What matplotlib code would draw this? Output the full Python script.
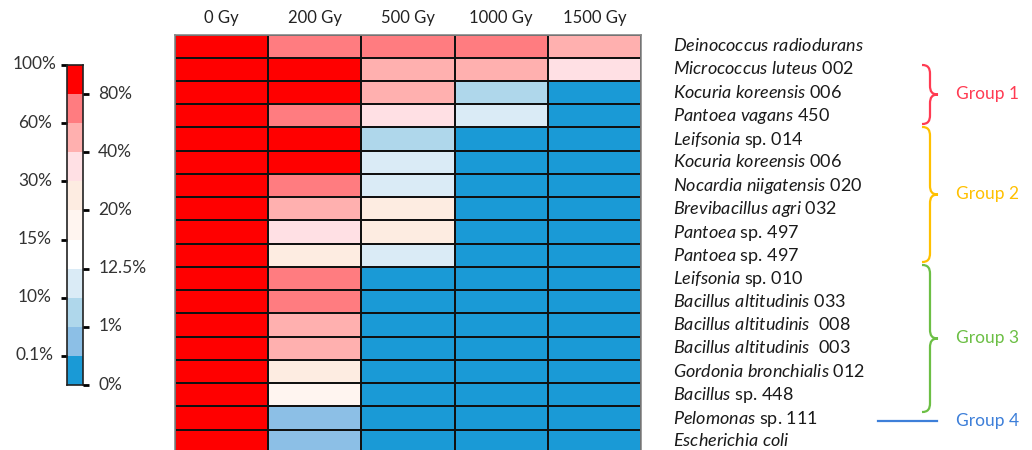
import numpy as np
import matplotlib
matplotlib.use("Agg")
import matplotlib.pyplot as plt
from matplotlib.colors import ListedColormap, BoundaryNorm
from matplotlib.path import Path
from matplotlib.patches import PathPatch
import matplotlib.transforms as mtransforms

plt.rcParams['font.family'] = ['Lato', 'DejaVu Sans']
plt.rcParams['mathtext.fontset'] = 'custom'
plt.rcParams['mathtext.it'] = 'Lato:italic'
plt.rcParams['mathtext.rm'] = 'Lato'

# ---------------- data ----------------
doses = ["0 Gy", "200 Gy", "500 Gy", "1000 Gy", "1500 Gy"]
genus = ["Deinococcus radiodurans", "Micrococcus luteus", "Kocuria koreensis",
         "Pantoea vagans", "Leifsonia", "Kocuria koreensis", "Nocardia niigatensis",
         "Brevibacillus agri", "Pantoea", "Pantoea", "Leifsonia",
         "Bacillus altitudinis", "Bacillus altitudinis", "Bacillus altitudinis",
         "Gordonia bronchialis", "Bacillus", "Pelomonas", "Escherichia coli"]
strain = ["", "002", "006", "450", "sp. 014", "006", "020", "032", "sp. 497",
          "sp. 497", "sp. 010", "033", " 008", " 003", "012", "sp. 448",
          "sp. 111", ""]
# survival (%) per dose
surv_0 = [100] * 18
surv_200 = [70, 90, 90, 70, 90, 90, 70, 50, 35, 25, 70, 70, 50, 50, 25, 17, 0.5, 0.5]
surv_500 = [70, 50, 50, 35, 5, 11, 11, 25, 25, 11, 0, 0, 0, 0, 0, 0, 0, 0]
surv_1000 = [70, 50, 5, 11, 0, 0, 0, 0, 0, 0, 0, 0, 0, 0, 0, 0, 0, 0]
surv_1500 = [50, 35, 0, 0, 0, 0, 0, 0, 0, 0, 0, 0, 0, 0, 0, 0, 0, 0]

bounds = [0, 0.1, 1, 10, 12.5, 15, 20, 30, 40, 60, 80, 100.01]
level_colors = ["#1A9AD6", "#8CBFE6", "#AFD7EB", "#DAEBF6", "#FFFFFF", "#FFF5F0",
                "#FDECE1", "#FFE0E4", "#FFB0AF", "#FF7C80", "#FF0000"]
left_tick_labels = ["100%", "60%", "30%", "15%", "10%", "0.1%"]
right_tick_labels = ["80%", "40%", "20%", "12.5%", "1%", "0%"]

groups = ["Group 1", "Group 2", "Group 3", "Group 4"]
group_colors = ["#FF3B52", "#FFC000", "#6CBF45", "#3D7FD9"]

# ---------------- figure ----------------
W, H = 1032, 450
fig = plt.figure(figsize=(W / 100, H / 100), dpi=100)

def fx(px):
    return px / W

def fy(py):
    return 1 - py / H

cmap = ListedColormap(level_colors)
norm = BoundaryNorm(bounds, cmap.N)

data = np.array([surv_0, surv_200, surv_500, surv_1000, surv_1500]).T

top_px, row_h = 34.5, 23.25
bot_px = top_px + row_h * len(genus)
ax = fig.add_axes([fx(175), fy(bot_px), fx(641) - fx(175), fy(top_px) - fy(bot_px)])
ax.pcolormesh(data, cmap=cmap, norm=norm, edgecolors="#111111", linewidth=1.1)
ax.set_xlim(0, len(doses))
ax.set_ylim(len(genus), 0)
for s in ax.spines.values():
    s.set_edgecolor("#888888")
    s.set_linewidth(1.2)
ax.xaxis.tick_top()
ax.set_xticks(np.arange(len(doses)) + 0.5)
ax.set_xticklabels(doses, fontsize=12, color="#222222")
ax.tick_params(axis="x", length=0, pad=6)
ax.yaxis.tick_right()
ax.set_yticks(np.arange(len(genus)) + 0.5)
labels = []
for g, s in zip(genus, strain):
    gl = g.replace(" ", r"\ ")
    labels.append(f"$\\mathit{{{gl}}}$" + (f" {s}" if s else ""))
ax.set_yticklabels(labels, fontsize=13, color="#1a1a1a")
ax.tick_params(axis="y", length=0, pad=23)
shift = mtransforms.ScaledTranslation(0, 2 / 100, fig.dpi_scale_trans)
for t in ax.get_yticklabels():
    t.set_transform(t.get_transform() + shift)

# ---------------- colorbar ----------------
cax = fig.add_axes([fx(67), fy(385), fx(83) - fx(67), fy(65) - fy(385)])
nlev = len(level_colors)
cax.pcolormesh(np.arange(2), np.arange(nlev + 1), np.arange(nlev).reshape(-1, 1),
               cmap=cmap, vmin=-0.5, vmax=nlev - 0.5)
cax.set_xlim(0, 1)
cax.set_ylim(0, nlev)
cax.set_xticks([])
for s in cax.spines.values():
    s.set_linewidth(1.2)
    s.set_edgecolor("#222222")
cax.set_yticks([11, 9, 7, 5, 3, 1])
cax.set_yticklabels(left_tick_labels, fontsize=12.5, color="#333333")
cax.tick_params(axis="y", length=4, width=2, pad=8, direction="out")
lshift = mtransforms.ScaledTranslation(0, 2 / 100, fig.dpi_scale_trans)
for t in cax.get_yticklabels():
    t.set_horizontalalignment("center")
    t.set_transform(mtransforms.blended_transform_factory(fig.transFigure, cax.transData)
                    + lshift)
    t.set_x(fx(35))
rax = cax.twinx()
rax.set_ylim(0, nlev)
rax.set_yticks([10, 8, 6, 4, 2, 0])
rax.set_yticklabels(right_tick_labels, fontsize=12.5, color="#333333")
rax.tick_params(axis="y", length=4, width=2, pad=7, direction="out")
for t in rax.get_yticklabels():
    t.set_transform(t.get_transform() + lshift)
for s in rax.spines.values():
    s.set_visible(False)

# ---------------- group braces ----------------
ov = fig.add_axes([0, 0, 1, 1])
ov.set_xlim(0, W)
ov.set_ylim(H, 0)
ov.axis("off")

def brace(x0, y1, y2, color, w=8, r=9):
    ym = (y1 + y2) / 2
    verts = [(x0 - w, y1), (x0 - 2, y1), (x0, y1 + 3), (x0, y1 + r),
             (x0, ym - r),
             (x0, ym - 3), (x0 + 2, ym), (x0 + w, ym),
             (x0 + 2, ym), (x0, ym + 3), (x0, ym + r),
             (x0, y2 - r),
             (x0, y2 - 3), (x0 - 2, y2), (x0 - w, y2)]
    codes = [Path.MOVETO, Path.CURVE4, Path.CURVE4, Path.CURVE4,
             Path.LINETO,
             Path.CURVE4, Path.CURVE4, Path.CURVE4,
             Path.CURVE4, Path.CURVE4, Path.CURVE4,
             Path.LINETO,
             Path.CURVE4, Path.CURVE4, Path.CURVE4]
    ov.add_patch(PathPatch(Path(verts, codes), fill=False, edgecolor=color, lw=1.6))
    return ym

spans = [(65, 124), (127, 262), (265, 412)]
for (y1, y2), name, col in zip(spans, groups[:3], group_colors[:3]):
    ym = brace(930, y1, y2, col)
    ov.text(956, ym, name, color=col, fontsize=12.5, va="center", ha="left")
ov.plot([878, 937], [421, 421], color=group_colors[3], lw=1.6)
ov.text(956, 421, groups[3], color=group_colors[3], fontsize=12.5, va="center", ha="left")

fig.savefig("out.png", dpi=100)
